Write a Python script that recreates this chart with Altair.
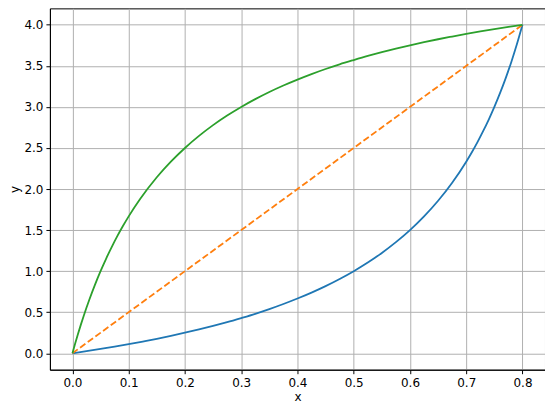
import altair as alt
import pandas as pd

# values
blue_x = [0.0, 0.025, 0.05, 0.075, 0.1, 0.125, 0.15, 0.175, 0.2, 0.225, 0.25, 0.275, 0.3, 0.325, 0.35, 0.375,
          0.4, 0.425, 0.45, 0.475, 0.5, 0.525, 0.55, 0.575, 0.6, 0.625, 0.65, 0.675, 0.7, 0.71, 0.72, 0.73,
          0.74, 0.75, 0.76, 0.77, 0.78, 0.79, 0.8]
blue_y = [0.0, 0.026, 0.053, 0.081, 0.111, 0.143, 0.176, 0.212, 0.25, 0.29, 0.333, 0.379, 0.429, 0.481, 0.538, 0.6,
          0.667, 0.739, 0.818, 0.905, 1.0, 1.105, 1.222, 1.353, 1.5, 1.667, 1.857, 2.077, 2.333, 2.448, 2.571, 2.704,
          2.846, 3.0, 3.167, 3.348, 3.545, 3.762, 4.0]

orange_x = [0.0, 0.8]
orange_y = [0.0, 4.0]

green_x = [0.0, 0.005, 0.01, 0.015, 0.02, 0.03, 0.04, 0.05, 0.06, 0.07, 0.08, 0.09, 0.1, 0.12, 0.15, 0.175, 0.2,
           0.225, 0.25, 0.275, 0.3, 0.325, 0.35, 0.375, 0.4, 0.425, 0.45, 0.475, 0.5, 0.525, 0.55, 0.575, 0.6,
           0.625, 0.65, 0.675, 0.7, 0.725, 0.75, 0.775, 0.8]
green_y = [0.0, 0.122, 0.238, 0.349, 0.455, 0.652, 0.833, 1.0, 1.154, 1.296, 1.429, 1.552, 1.667, 1.875, 2.143, 2.333, 2.5,
           2.647, 2.778, 2.895, 3.0, 3.095, 3.182, 3.261, 3.333, 3.4, 3.462, 3.519, 3.571, 3.621, 3.667, 3.71, 3.75,
           3.788, 3.824, 3.857, 3.889, 3.919, 3.947, 3.974, 4.0]

x_ticks = [0.0, 0.1, 0.2, 0.3, 0.4, 0.5, 0.6, 0.7, 0.8]
y_ticks = [0.0, 0.5, 1.0, 1.5, 2.0, 2.5, 3.0, 3.5, 4.0]

FONT = "DejaVu Sans"

xs = alt.Scale(domain=[-0.04, 0.84], nice=False, zero=False)
ys = alt.Scale(domain=[-0.2, 4.2], nice=False, zero=False)

xax = alt.Axis(values=x_ticks, format=".1f", title="x", grid=True, labelPadding=4, titlePadding=3)
yax = alt.Axis(values=y_ticks, format=".1f", title="y", grid=True, labelPadding=3, titlePadding=2)


def line(xv, yv, color, dash=None):
    df = pd.DataFrame({"x": xv, "y": yv, "o": list(range(len(xv)))})
    kw = dict(color=color, strokeWidth=1.8, clip=True, interpolate="monotone")
    if dash:
        kw["strokeDash"] = dash
    return alt.Chart(df).mark_line(**kw).encode(
        x=alt.X("x:Q", scale=xs, axis=xax),
        y=alt.Y("y:Q", scale=ys, axis=yax),
        order="o:Q",
    )


chart = alt.layer(
    line(blue_x, blue_y, "#1f77b4"),
    line(orange_x, orange_y, "#ff7f0e", [6.6, 2.9]),
    line(green_x, green_y, "#2ca02c"),
).properties(
    width=496,
    height=362,
    autosize=alt.AutoSizeParams(type="none"),
    padding={"left": 42, "top": 0, "right": 0, "bottom": 36},
).configure_view(
    stroke="black", strokeWidth=1
).configure_axis(
    labelFont=FONT, titleFont=FONT, labelFontSize=12, titleFontSize=12,
    titleFontWeight="normal", labelColor="black", titleColor="black",
    domainColor="black", domainWidth=1, tickColor="black", tickSize=4, tickWidth=1,
    gridColor="#b0b0b0", gridWidth=1,
)

chart.save("out.html", embed_options={"renderer": "svg", "actions": False})
